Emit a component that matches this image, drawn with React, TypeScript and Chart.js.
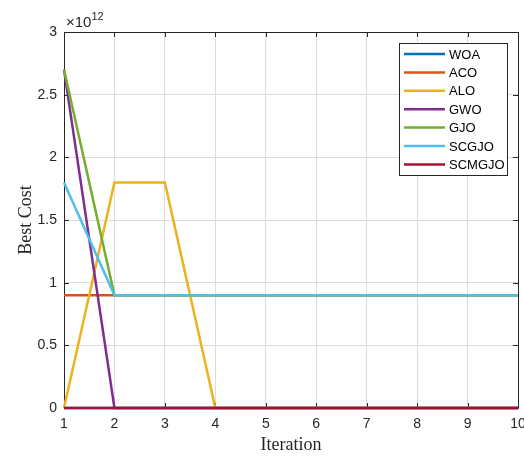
import React, { useEffect, useRef } from "react";
import { Chart, registerables } from "chart.js";

Chart.register(...registerables);

const iterations = [1, 2, 3, 4, 5, 6, 7, 8, 9, 10];
const seriesNames = ["WOA", "ACO", "ALO", "GWO", "GJO", "SCGJO", "SCMGJO"];
const seriesColors = ["#0072BD", "#D95319", "#EDB120", "#7E2F8E", "#77AC30", "#4DBEEE", "#A2142F"];
// values in units of 1e12
const woa = [0, 0, 0, 0, 0, 0, 0, 0, 0, 0];
const aco = [0.9, 0.9, 0.9, 0.9, 0.9, 0.9, 0.9, 0.9, 0.9, 0.9];
const alo = [0, 1.8, 1.8, 0, 0, 0, 0, 0, 0, 0];
const gwo = [2.7, 0, 0, 0, 0, 0, 0, 0, 0, 0];
const gjo = [2.7, 0.9, 0.9, 0.9, 0.9, 0.9, 0.9, 0.9, 0.9, 0.9];
const scgjo = [1.8, 0.9, 0.9, 0.9, 0.9, 0.9, 0.9, 0.9, 0.9, 0.9];
const scmgjo = [0, 0, 0, 0, 0, 0, 0, 0, 0, 0];
const exponent = 12;
const yTicks = [0, 0.5, 1, 1.5, 2, 2.5, 3];

const allSeries = [woa, aco, alo, gwo, gjo, scgjo, scmgjo];

const TICK_FONT = "Arial, 'Liberation Sans', Helvetica, sans-serif";
const SERIF = "'Times New Roman', 'Liberation Serif', serif";

export default function App() {
  const ref = useRef<HTMLCanvasElement | null>(null);

  useEffect(() => {
    const canvas = ref.current;
    if (!canvas) return;
    const scale = Math.pow(10, exponent);

    const boxPlugin = {
      id: "matlabBox",
      beforeDatasetsDraw(chart: any) {
        const { ctx, chartArea } = chart;
        const { left, right, top, bottom } = chartArea;
        const xs = chart.scales.x;
        const ys = chart.scales.y;
        ctx.save();
        ctx.strokeStyle = "#262626";
        ctx.lineWidth = 1;
        ctx.beginPath();
        ctx.rect(Math.round(left) + 0.5, Math.round(top) + 0.5, Math.round(right - left), Math.round(bottom - top));
        ctx.stroke();
        ctx.beginPath();
        iterations.forEach((v) => {
          const px = Math.round(xs.getPixelForValue(v)) + 0.5;
          ctx.moveTo(px, bottom);
          ctx.lineTo(px, bottom - 5);
          ctx.moveTo(px, top);
          ctx.lineTo(px, top + 5);
        });
        yTicks.forEach((v) => {
          const py = Math.round(ys.getPixelForValue(v * scale)) + 0.5;
          ctx.moveTo(left, py);
          ctx.lineTo(left + 5, py);
          ctx.moveTo(right, py);
          ctx.lineTo(right - 5, py);
        });
        ctx.stroke();
        ctx.restore();
      },
      afterDraw(chart: any) {
        const { ctx, chartArea } = chart;
        const { left, top } = chartArea;
        ctx.save();
        // exponent label
        ctx.fillStyle = "#262626";
        ctx.textBaseline = "alphabetic";
        ctx.textAlign = "left";
        ctx.font = `15px ${TICK_FONT}`;
        const base = "\u00d710";
        ctx.fillText(base, left + 2, top - 5);
        const w = ctx.measureText(base).width;
        ctx.font = `11px ${TICK_FONT}`;
        ctx.fillText(String(exponent), left + 2 + w, top - 12);

        // legend
        const lx = 399, ly = 43, lw = 108, lh = 132;
        ctx.fillStyle = "#ffffff";
        ctx.fillRect(lx, ly, lw, lh);
        ctx.strokeStyle = "#262626";
        ctx.lineWidth = 1;
        ctx.strokeRect(lx + 0.5, ly + 0.5, lw, lh);
        chart.data.datasets.forEach((ds: any, i: number) => {
          const yy = 54 + i * 18.4;
          ctx.strokeStyle = ds.borderColor;
          ctx.lineWidth = 2.5;
          ctx.beginPath();
          ctx.moveTo(404, yy);
          ctx.lineTo(445, yy);
          ctx.stroke();
          ctx.fillStyle = "#000000";
          ctx.font = `13px ${TICK_FONT}`;
          ctx.textBaseline = "middle";
          ctx.fillText(ds.label, 449, yy + 1);
        });
        ctx.restore();
      },
    };

    const chart = new Chart(canvas, {
      type: "line",
      data: {
        datasets: seriesNames.map((name, i) => ({
          label: name,
          data: iterations.map((it, k) => ({ x: it, y: allSeries[i][k] * scale })),
          borderColor: seriesColors[i],
          backgroundColor: seriesColors[i],
          borderWidth: 2.5,
          pointRadius: 0,
          tension: 0,
          fill: false,
          clip: 3,
          order: seriesNames.length - i,
        })),
      },
      options: {
        animation: false,
        responsive: false,
        maintainAspectRatio: false,
        layout: { padding: { left: 0, right: 6, top: 32, bottom: 0 } },
        plugins: {
          legend: { display: false },
          tooltip: { enabled: false },
        },
        scales: {
          x: {
            type: "linear",
            min: 1,
            max: 10,
            afterFit: (s: any) => {
              s.height = 49;
              s.paddingLeft = 0;
              s.paddingRight = 0;
            },
            afterBuildTicks: (s: any) => {
              s.ticks = iterations.map((v) => ({ value: v }));
            },
            grid: { color: "#dcdcdc", lineWidth: 1, drawTicks: false },
            border: { display: false },
            ticks: {
              padding: 8,
              color: "#262626",
              font: { family: TICK_FONT, size: 14 },
              maxRotation: 0,
              autoSkip: false,
              callback: (v: any) => String(v),
            },
            title: {
              display: true,
              text: "Iteration",
              color: "#262626",
              font: { family: SERIF, size: 18 },
              padding: { top: 0, bottom: 1 },
            },
          },
          y: {
            type: "linear",
            min: 0,
            max: 3 * scale,
            afterFit: (s: any) => {
              s.width = 64;
              s.paddingTop = 0;
              s.paddingBottom = 0;
            },
            afterBuildTicks: (s: any) => {
              s.ticks = yTicks.map((v) => ({ value: v * scale }));
            },
            grid: { color: "#dcdcdc", lineWidth: 1, drawTicks: false },
            border: { display: false },
            ticks: {
              padding: 7,
              color: "#262626",
              font: { family: TICK_FONT, size: 14 },
              autoSkip: false,
              callback: (v: any) => String(Math.round((Number(v) / scale) * 10) / 10),
            },
            title: {
              display: true,
              text: "Best Cost",
              color: "#262626",
              font: { family: SERIF, size: 18 },
              padding: { top: 15, bottom: 0 },
            },
          },
        },
      },
      plugins: [boxPlugin],
    } as any);

    return () => chart.destroy();
  }, []);

  return (
    <div style={{ position: "absolute", left: 0, top: 0, width: 524, height: 457, background: "#fff" }}>
      <canvas ref={ref} width={524} height={457} style={{ display: "block", width: 524, height: 457 }} />
    </div>
  );
}
